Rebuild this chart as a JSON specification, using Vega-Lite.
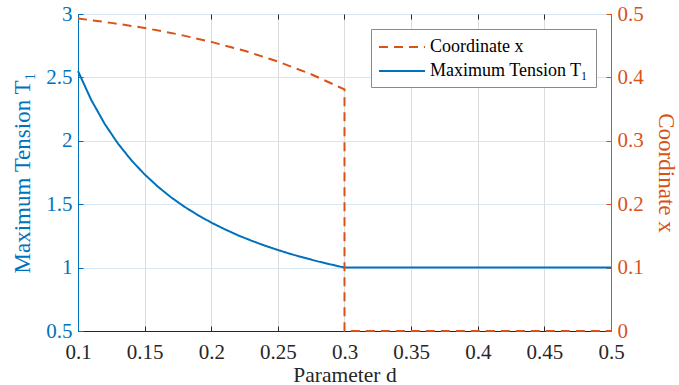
{
  "$schema": "https://vega.github.io/schema/vega-lite/v6.json",
  "autosize": {"type": "none"},
  "width": 533,
  "height": 317,
  "padding": {"left": 78, "top": 14, "right": 68, "bottom": 54},
  "background": "white",
  "config": {
    "view": {"stroke": "#262626", "strokeWidth": 1},
    "font": "Liberation Serif",
    "axis": {
      "labelFont": "Liberation Serif",
      "titleFont": "Liberation Serif",
      "labelFontSize": 21,
      "titleFontSize": 23,
      "titleFontWeight": "normal",
      "tickSize": -5,
      "labelPadding": 11,
      "labelFlush": false
    },
    "legend": {
      "labelFont": "Liberation Serif",
      "labelFontSize": 18
    }
  },
  "data": {
    "values": [
      {"series": "Maximum Tension T₁", "d": 0.1, "v": 2.55, "i": 0},
      {"series": "Maximum Tension T₁", "d": 0.11, "v": 2.321, "i": 1},
      {"series": "Maximum Tension T₁", "d": 0.12, "v": 2.134, "i": 2},
      {"series": "Maximum Tension T₁", "d": 0.13, "v": 1.978, "i": 3},
      {"series": "Maximum Tension T₁", "d": 0.14, "v": 1.847, "i": 4},
      {"series": "Maximum Tension T₁", "d": 0.15, "v": 1.735, "i": 5},
      {"series": "Maximum Tension T₁", "d": 0.16, "v": 1.638, "i": 6},
      {"series": "Maximum Tension T₁", "d": 0.17, "v": 1.553, "i": 7},
      {"series": "Maximum Tension T₁", "d": 0.18, "v": 1.479, "i": 8},
      {"series": "Maximum Tension T₁", "d": 0.19, "v": 1.414, "i": 9},
      {"series": "Maximum Tension T₁", "d": 0.2, "v": 1.355, "i": 10},
      {"series": "Maximum Tension T₁", "d": 0.21, "v": 1.303, "i": 11},
      {"series": "Maximum Tension T₁", "d": 0.22, "v": 1.255, "i": 12},
      {"series": "Maximum Tension T₁", "d": 0.23, "v": 1.213, "i": 13},
      {"series": "Maximum Tension T₁", "d": 0.24, "v": 1.174, "i": 14},
      {"series": "Maximum Tension T₁", "d": 0.25, "v": 1.139, "i": 15},
      {"series": "Maximum Tension T₁", "d": 0.26, "v": 1.106, "i": 16},
      {"series": "Maximum Tension T₁", "d": 0.27, "v": 1.077, "i": 17},
      {"series": "Maximum Tension T₁", "d": 0.28, "v": 1.049, "i": 18},
      {"series": "Maximum Tension T₁", "d": 0.29, "v": 1.024, "i": 19},
      {"series": "Maximum Tension T₁", "d": 0.3, "v": 1.0, "i": 20},
      {"series": "Maximum Tension T₁", "d": 0.5, "v": 1.0, "i": 21},
      {"series": "Coordinate x", "d": 0.1, "v": 0.493, "i": 0},
      {"series": "Coordinate x", "d": 0.125, "v": 0.486, "i": 1},
      {"series": "Coordinate x", "d": 0.15, "v": 0.478, "i": 2},
      {"series": "Coordinate x", "d": 0.175, "v": 0.468, "i": 3},
      {"series": "Coordinate x", "d": 0.2, "v": 0.456, "i": 4},
      {"series": "Coordinate x", "d": 0.225, "v": 0.442, "i": 5},
      {"series": "Coordinate x", "d": 0.25, "v": 0.425, "i": 6},
      {"series": "Coordinate x", "d": 0.275, "v": 0.405, "i": 7},
      {"series": "Coordinate x", "d": 0.3, "v": 0.381, "i": 8},
      {"series": "Coordinate x", "d": 0.3, "v": 0.0, "i": 9},
      {"series": "Coordinate x", "d": 0.5, "v": 0.0, "i": 10}
    ]
  },
  "layer": [
    {
      "transform": [{"filter": "datum.series == 'Maximum Tension T₁'"}],
      "mark": {"type": "line", "strokeWidth": 2},
      "encoding": {
        "x": {
          "field": "d", "type": "quantitative",
          "scale": {"domain": [0.1, 0.5], "nice": false},
          "axis": {
            "orient": "bottom",
            "title": "Parameter d",
            "titleFontSize": 21.5,
            "values": [0.1, 0.15, 0.2, 0.25, 0.3, 0.35, 0.4, 0.45, 0.5],
            "format": "~g",
            "labelColor": "#262626",
            "titleColor": "#262626",
            "domainColor": "#262626",
            "tickColor": "#262626",
            "grid": true,
            "gridColor": "#dcdcdc",
            "labelPadding": 15,
            "titlePadding": 2
          }
        },
        "y": {
          "field": "v", "type": "quantitative",
          "scale": {"domain": [0.5, 3], "nice": false, "zero": false},
          "axis": {
            "orient": "left",
            "title": "Maximum Tension T₁",
            "values": [0.5, 1, 1.5, 2, 2.5, 3],
            "format": "~g",
            "labelColor": "#0072BD",
            "titleColor": "#0072BD",
            "domainColor": "#0072BD",
            "tickColor": "#0072BD",
            "grid": true,
            "gridColor": "#d6e6f3",
            "titlePadding": 11
          }
        },
        "color": {
          "field": "series", "type": "nominal",
          "scale": {"domain": ["Coordinate x", "Maximum Tension T₁"], "range": ["#D95319", "#0072BD"]},
          "legend": {
            "title": null,
            "orient": "top-right",
            "offset": 15,
            "fillColor": "white",
            "strokeColor": "#8a8a8a",
            "padding": 7,
            "symbolType": "M-1,0L3.6,0",
            "symbolSize": 400,
            "symbolStrokeWidth": 2,
            "labelOffset": 30,
            "rowPadding": 4
          }
        },
        "strokeDash": {
          "field": "series", "type": "nominal",
          "scale": {"domain": ["Coordinate x", "Maximum Tension T₁"], "range": [[9, 6], [1, 0]]},
          "legend": {
            "title": null,
            "orient": "top-right",
            "offset": 15,
            "fillColor": "white",
            "strokeColor": "#8a8a8a",
            "padding": 7,
            "symbolType": "M-1,0L3.6,0",
            "symbolSize": 400,
            "symbolStrokeWidth": 2,
            "labelOffset": 30,
            "rowPadding": 4
          }
        },
        "order": {"field": "i", "type": "quantitative"}
      }
    },
    {
      "transform": [{"filter": "datum.series == 'Coordinate x'"}],
      "mark": {"type": "line", "strokeWidth": 2},
      "encoding": {
        "x": {
          "field": "d", "type": "quantitative",
          "scale": {"domain": [0.1, 0.5], "nice": false},
          "axis": {
            "orient": "top",
            "title": null,
            "values": [0.1, 0.15, 0.2, 0.25, 0.3, 0.35, 0.4, 0.45, 0.5],
            "labels": false,
            "domain": false,
            "grid": false,
            "tickColor": "#262626"
          }
        },
        "y": {
          "field": "v", "type": "quantitative",
          "scale": {"domain": [0, 0.5], "nice": false},
          "axis": {
            "orient": "right",
            "title": "Coordinate x",
            "values": [0, 0.1, 0.2, 0.3, 0.4, 0.5],
            "format": "~g",
            "labelColor": "#D95319",
            "titleColor": "#D95319",
            "domainColor": "#D95319",
            "tickColor": "#D95319",
            "grid": false,
            "titlePadding": 10
          }
        },
        "color": {"field": "series", "type": "nominal"},
        "strokeDash": {"field": "series", "type": "nominal"},
        "order": {"field": "i", "type": "quantitative"}
      }
    }
  ],
  "resolve": {
    "scale": {"y": "independent", "color": "shared", "strokeDash": "shared"},
    "axis": {"x": "independent", "y": "independent"}
  }
}
